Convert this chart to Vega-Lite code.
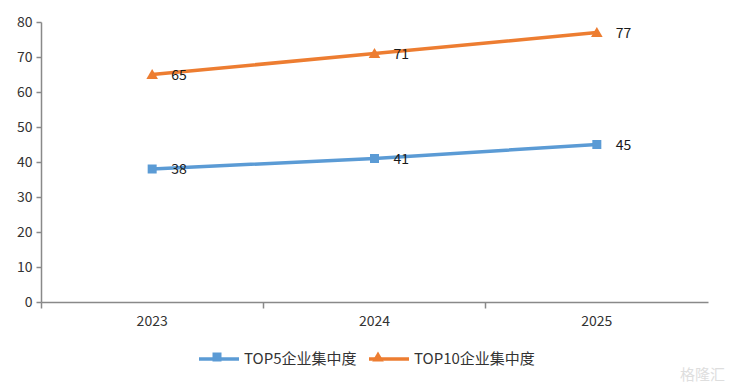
{
  "$schema": "https://vega.github.io/schema/vega-lite/v6.json",
  "width": 667,
  "height": 280,
  "autosize": {"type": "none"},
  "padding": {"left": 41, "top": 22, "right": 24, "bottom": 88},
  "background": "white",
  "config": {"view": {"stroke": null}, "font": "Noto Sans CJK SC"},
  "title": {
    "text": "格隆汇",
    "orient": "bottom",
    "anchor": "end",
    "frame": "group",
    "dx": 17,
    "offset": 1,
    "fontSize": 15,
    "fontWeight": "normal",
    "font": "Noto Sans CJK SC",
    "color": "#dedede"
  },
  "data": {
    "values": [
      {"year": "2023", "series": "TOP5企业集中度", "marker": "TOP5企业集中度", "value": 38},
      {"year": "2024", "series": "TOP5企业集中度", "marker": "TOP5企业集中度", "value": 41},
      {"year": "2025", "series": "TOP5企业集中度", "marker": "TOP5企业集中度", "value": 45},
      {"year": "2023", "series": "TOP10企业集中度", "marker": "TOP10企业集中度", "value": 65},
      {"year": "2024", "series": "TOP10企业集中度", "marker": "TOP10企业集中度", "value": 71},
      {"year": "2025", "series": "TOP10企业集中度", "marker": "TOP10企业集中度", "value": 77}
    ]
  },
  "encoding": {
    "x": {
      "field": "year",
      "type": "ordinal",
      "scale": {"type": "band", "paddingInner": 0, "paddingOuter": 0},
      "axis": {
        "title": null,
        "labelAngle": 0,
        "bandPosition": 0,
        "domainColor": "#898989",
        "domainWidth": 1.5,
        "tickColor": "#898989",
        "tickWidth": 1.5,
        "tickSize": 6,
        "labelPadding": 6,
        "labelFontSize": 14,
        "labelColor": "#333333",
        "labelFont": "Noto Sans CJK SC"
      }
    },
    "y": {
      "field": "value",
      "type": "quantitative",
      "scale": {"domain": [0, 80]},
      "axis": {
        "title": null,
        "values": [0, 10, 20, 30, 40, 50, 60, 70, 80],
        "grid": false,
        "domainColor": "#898989",
        "domainWidth": 1.5,
        "tickColor": "#898989",
        "tickWidth": 1.5,
        "tickSize": 5,
        "labelPadding": 4,
        "labelFontSize": 14,
        "labelColor": "#333333",
        "labelFont": "Noto Sans CJK SC"
      }
    }
  },
  "layer": [
    {
      "mark": {"type": "line", "strokeWidth": 3.5},
      "encoding": {
        "color": {
          "field": "series",
          "type": "nominal",
          "sort": ["TOP5企业集中度", "TOP10企业集中度"],
          "scale": {"range": ["#5B9BD5", "#ED7D31"]},
          "legend": {
            "orient": "none",
            "legendX": 156,
            "legendY": 315,
            "direction": "horizontal",
            "title": null,
            "symbolType": "stroke",
            "symbolSize": 1600,
            "symbolStrokeWidth": 3.5,
            "labelFontSize": 15,
            "labelFont": "Noto Sans CJK SC",
            "labelColor": "#333333",
            "labelOffset": 3,
            "columnPadding": 5
          }
        }
      }
    },
    {
      "mark": {"type": "point", "filled": true, "size": 1600, "opacity": 1},
      "encoding": {
        "fill": {
          "field": "marker",
          "type": "nominal",
          "scale": {"domain": ["TOP5企业集中度", "TOP10企业集中度"], "range": ["#5B9BD5", "#ED7D31"]},
          "legend": {
            "orient": "none",
            "legendX": 156,
            "legendY": 315,
            "direction": "horizontal",
            "title": null,
            "symbolSize": 1600,
            "symbolStrokeWidth": 0,
            "labelFontSize": 15,
            "labelFont": "Noto Sans CJK SC",
            "labelOpacity": 0,
            "labelOffset": 3,
            "columnPadding": 5
          }
        },
        "shape": {
          "field": "marker",
          "type": "nominal",
          "scale": {
            "domain": ["TOP5企业集中度", "TOP10企业集中度"],
            "range": ["M-0.225,-0.225H0.225V0.225H-0.225Z", "M0,-0.27L0.29,0.22H-0.29Z"]
          },
          "legend": {
            "orient": "none",
            "legendX": 156,
            "legendY": 315,
            "direction": "horizontal",
            "title": null,
            "symbolSize": 1600,
            "symbolStrokeWidth": 0,
            "labelFontSize": 15,
            "labelFont": "Noto Sans CJK SC",
            "labelOpacity": 0,
            "labelOffset": 3,
            "columnPadding": 5
          }
        }
      }
    },
    {
      "mark": {"type": "text", "align": "left", "baseline": "middle", "dx": 19, "dy": 1, "fontSize": 14, "font": "Noto Sans CJK SC", "color": "#1a1a1a"},
      "encoding": {"text": {"field": "value", "type": "quantitative"}}
    }
  ]
}
